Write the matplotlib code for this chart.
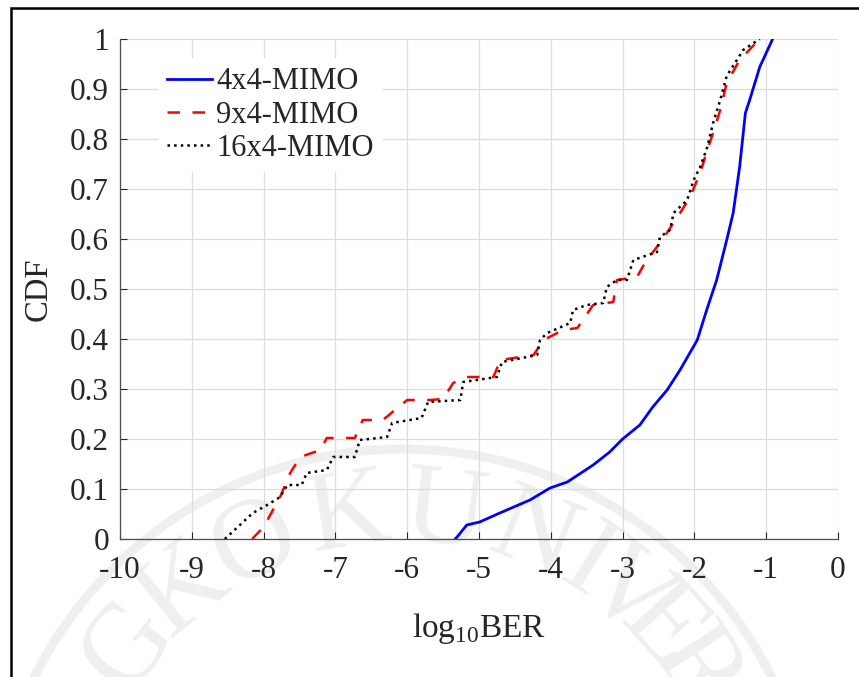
import numpy as np
import matplotlib
matplotlib.use('Agg')
import matplotlib.pyplot as plt
from matplotlib.patches import Rectangle

plt.rcParams['font.family'] = ['Liberation Serif', 'DejaVu Serif']
plt.rcParams['mathtext.fontset'] = 'custom'
plt.rcParams['mathtext.rm'] = 'Liberation Serif'
plt.rcParams['axes.unicode_minus'] = False

# ---- data (log10 BER, CDF) ----
x_4x4 = [-5.33, -5.30, -5.17, -4.99, -4.71, -4.29, -4.01, -3.77, -3.41, -3.18,
         -3.00, -2.76, -2.58, -2.38, -2.20, -1.96, -1.82, -1.69, -1.55, -1.46,
         -1.37, -1.29, -1.23, -1.09, -0.91]
y_4x4 = [0.0, 0.005, 0.028, 0.034, 0.052, 0.078, 0.102, 0.114, 0.148, 0.174,
         0.200, 0.228, 0.264, 0.298, 0.338, 0.398, 0.462, 0.518, 0.598, 0.652,
         0.744, 0.852, 0.878, 0.944, 1.0]

x_9x4 = [-8.16, -8.00, -7.77, -7.63, -7.49, -7.21, -7.12, -6.73, -6.62, -6.34,
         -6.00, -5.68, -5.50, -5.36, -5.17, -4.80, -4.70, -4.24, -4.10, -3.83,
         -3.63, -3.41, -3.13, -3.08, -2.80, -2.69, -2.43, -2.20, -2.06, -1.92,
         -1.82, -1.74, -1.64, -1.55, -1.37, -1.09]
y_9x4 = [0.0, 0.024, 0.084, 0.132, 0.164, 0.178, 0.202, 0.202, 0.238, 0.238,
         0.278, 0.278, 0.280, 0.312, 0.324, 0.324, 0.358, 0.368, 0.398, 0.418,
         0.422, 0.468, 0.474, 0.518, 0.524, 0.552, 0.602, 0.652, 0.684, 0.732,
         0.778, 0.812, 0.858, 0.912, 0.958, 1.0]

x_16x4 = [-8.54, -8.15, -7.95, -7.77, -7.67, -7.47, -7.40, -7.12, -7.03, -6.73,
          -6.66, -6.28, -6.21, -5.80, -5.71, -5.26, -5.22, -4.75, -4.68, -4.19,
          -4.15, -4.05, -3.73, -3.69, -3.50, -3.27, -3.22, -3.08, -2.94, -2.85,
          -2.52, -2.48, -2.34, -2.29, -2.10, -2.01, -1.92, -1.82, -1.74, -1.64,
          -1.55, -1.32, -1.09]
y_16x4 = [0.0, 0.052, 0.068, 0.084, 0.108, 0.108, 0.132, 0.138, 0.164, 0.164,
          0.198, 0.204, 0.232, 0.242, 0.274, 0.278, 0.314, 0.324, 0.354, 0.368,
          0.398, 0.412, 0.432, 0.458, 0.468, 0.472, 0.504, 0.518, 0.518, 0.558,
          0.574, 0.604, 0.618, 0.652, 0.678, 0.718, 0.744, 0.784, 0.832, 0.878,
          0.926, 0.978, 1.0]

series_names = ['4x4-MIMO', '9x4-MIMO', '16x4-MIMO']
xticks = [-10, -9, -8, -7, -6, -5, -4, -3, -2, -1, 0]
yticks = [0, 0.1, 0.2, 0.3, 0.4, 0.5, 0.6, 0.7, 0.8, 0.9, 1]
xtick_labels = ['-10', '-9', '-8', '-7', '-6', '-5', '-4', '-3', '-2', '-1', '0']
ytick_labels = ['0', '0.1', '0.2', '0.3', '0.4', '0.5', '0.6', '0.7', '0.8', '0.9', '1']

W, H = 859, 677
fig = plt.figure(figsize=(W / 100, H / 100), dpi=100)

# faint watermark seal behind the plot (pixel geometry of the seal)
cx, cy = 403, 861
wm_letters = ['G', 'K', 'O', 'K', 'U', 'N', 'I', 'V', 'E', 'R', 'S']
wm_angles = [-52, -39, -25, -9, 7, 22, 32, 40, 48, 57, 66]
for ch, th in zip(wm_letters, wm_angles):
    r = 348
    px = cx + r * np.sin(np.radians(th))
    py = cy - r * np.cos(np.radians(th))
    fig.text(px / W, 1 - py / H, ch, fontsize=82, color='#efefef',
             rotation=-th, ha='center', va='center', zorder=-2)
t = np.linspace(-75, 75, 300)
R = 412
fig.lines.append(plt.Line2D((cx + R * np.sin(np.radians(t))) / W,
                            1 - (cy - R * np.cos(np.radians(t))) / H,
                            transform=fig.transFigure, color='#efefef', lw=6.5, zorder=-2))

# border of the image
fig.patches.append(Rectangle((11 / W, -0.1), 1.2, (H - 8) / H + 0.1, transform=fig.transFigure,
                             fill=False, edgecolor='black', lw=1.8, zorder=5))

ax = fig.add_axes([120 / W, 1 - 539 / H, 718 / W, 500 / H])
ax.patch.set_alpha(0)

ax.plot(x_4x4, y_4x4, color='#0000ff', lw=2.0, label=series_names[0])
ax.plot(x_9x4, y_9x4, color='#ff0000', lw=1.8, dashes=(5, 5), label=series_names[1])
ax.plot(x_16x4, y_16x4, color='black', lw=1.8, linestyle=':', label=series_names[2])

ax.set_xlim(-10, 0)
ax.set_ylim(0, 1)
ax.set_xticks(xticks)
ax.set_xticklabels(xtick_labels)
ax.set_yticks(yticks)
ax.set_yticklabels(ytick_labels)
ax.tick_params(direction='in', length=5, width=0.8, colors='#262626', labelsize=22.5,
               labelcolor='#262626')
ax.tick_params(axis='x', pad=12)
ax.tick_params(axis='y', pad=8)
ax.grid(True, color='#dcdcdc', lw=0.9)
for s in ['top', 'right']:
    ax.spines[s].set_visible(False)
for s in ['left', 'bottom']:
    ax.spines[s].set_color('#4d4d4d')
    ax.spines[s].set_linewidth(0.9)

ax.set_ylabel('CDF', fontsize=23.5, color='#262626', labelpad=12)
ax.set_xlabel(r'log$_{\mathrm{10}}$BER', fontsize=24, color='#262626', labelpad=19)

leg = ax.legend(loc='upper left', bbox_to_anchor=(0.032, 0.992), fontsize=22,
                frameon=True, framealpha=1, edgecolor='none', facecolor='white',
                handlelength=1.45, handletextpad=0.15, labelspacing=0.14,
                borderpad=0.3, fancybox=False)
for txt in leg.get_texts():
    txt.set_color('#262626')

fig.savefig('out.png', dpi=100)
